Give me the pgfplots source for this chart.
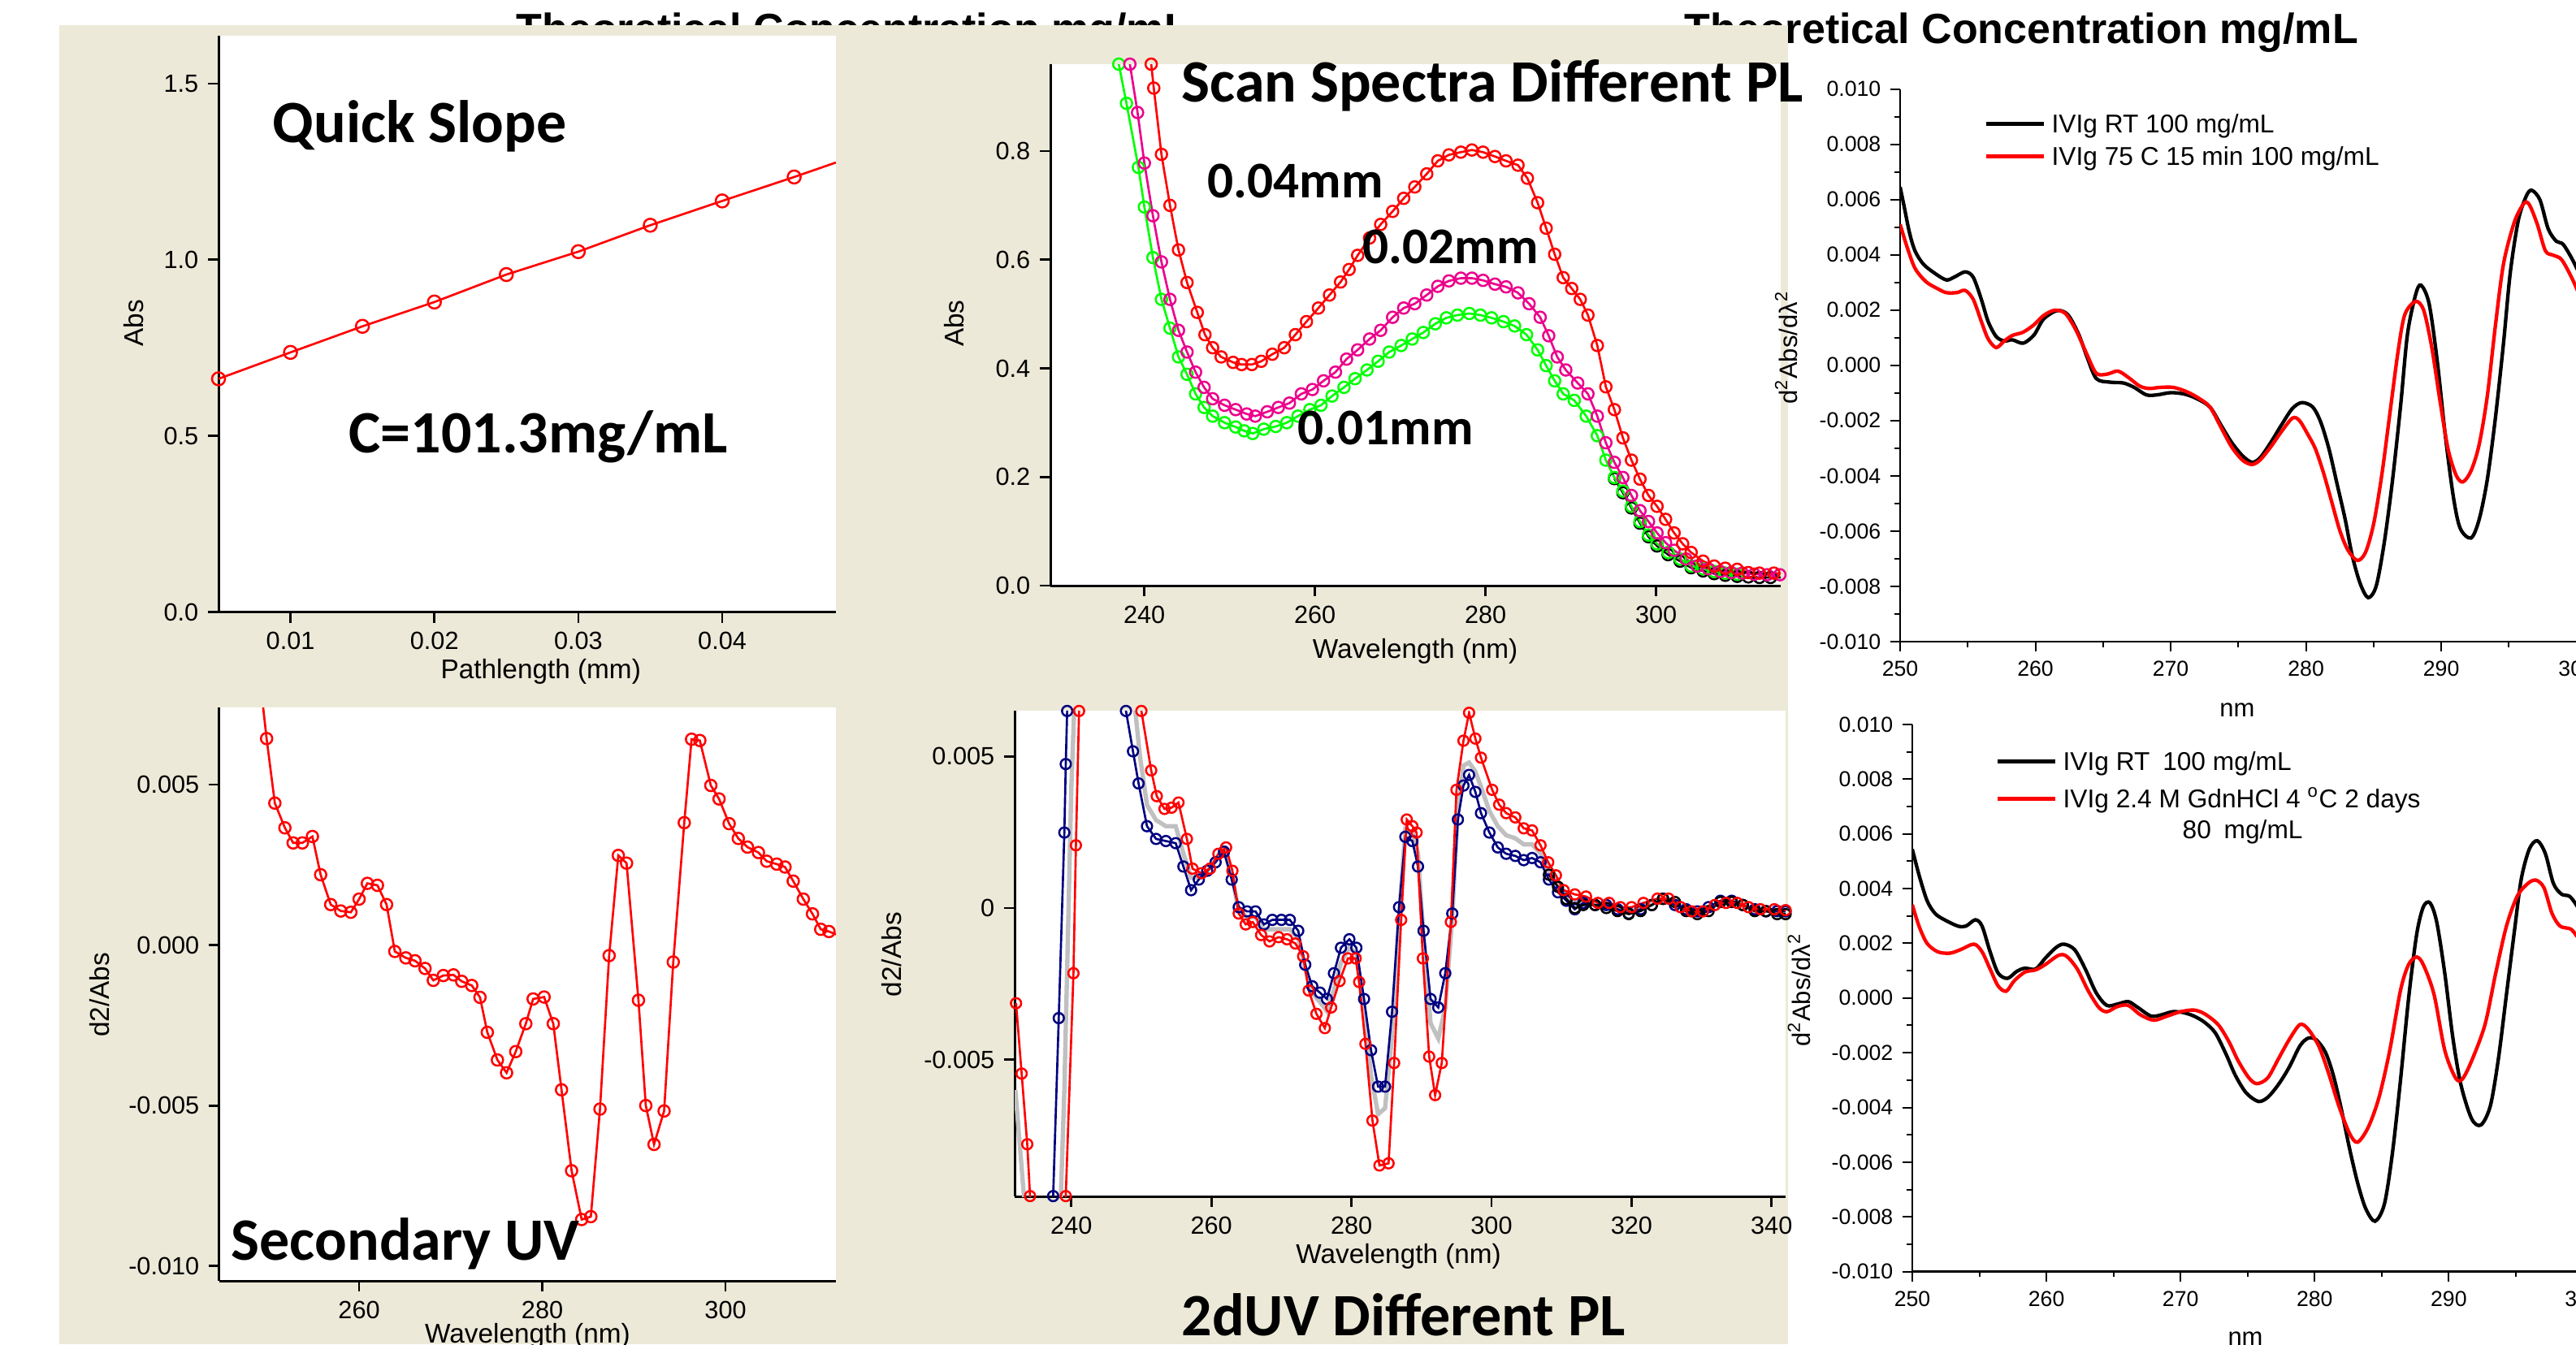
\documentclass[border=0pt]{standalone}
\usepackage{fontspec}
\setmainfont{Liberation Sans}
\newfontfamily\calib{Carlito}
\usepackage{pgfplots}
\pgfplotsset{compat=1.18}
\definecolor{xpbeige}{HTML}{ECE9D8}
\definecolor{navyb}{HTML}{000080}
\definecolor{grayc}{HTML}{C0C0C0}
\newcommand{\bigcal}{\calib\bfseries\fontsize{22.2}{26}\selectfont}
\newcommand{\midcal}{\calib\bfseries\fontsize{19}{22}\selectfont}
\pgfplotsset{
  winax/.style={scale only axis, axis lines*=left, axis line style={line width=0.9pt, black},
    tick align=outside, major tick length=3.9pt, tick style={black, line width=0.8pt},
    axis background/.style={fill=white}, scaled ticks=false,
    ticklabel style={font=\fontsize{9.2}{11}\selectfont},
    label style={font=\fontsize{10}{12}\selectfont}},
  winline/.style={line width=0.8pt, mark=o, mark size=2pt, mark options={solid, line width=0.75pt}},
  origax/.style={scale only axis, axis lines*=left, axis line style={line width=0.8pt, black},
    tick align=outside, major tick length=3.6pt, minor tick length=2pt, tick style={black, line width=0.6pt},
    scaled ticks=false,
    ticklabel style={font=\fontsize{8}{10}\selectfont},
    label style={font=\fontsize{9.3}{11}\selectfont},
    xmin=250, xmax=302, ymin=-0.010, ymax=0.010,
    xtick={250,260,270,280,290,300}, xticklabels={250,260,270,280,290,300},
    minor xtick={255,265,275,285,295},
    ytick={-0.01,-0.008,-0.006,-0.004,-0.002,0,0.002,0.004,0.006,0.008,0.01},
    yticklabels={-0.010,-0.008,-0.006,-0.004,-0.002,0.000,0.002,0.004,0.006,0.008,0.010},
    minor ytick={-0.009,-0.007,-0.005,-0.003,-0.001,0.001,0.003,0.005,0.007,0.009},
    xlabel={nm}, ylabel={d\textsuperscript{2}Abs/dλ\textsuperscript{2}},
    legend cell align=left,
    legend image code/.code={\draw[##1] (0pt,0pt) -- (21.3pt,0pt);},
    legend style={draw=none, fill=none, inner sep=0pt, anchor=north west, column sep=1.3pt,
      font=\fontsize{9.5}{11}\selectfont, nodes={inner sep=1pt, text height=8.3pt, text depth=1.7pt}}},
}
\begin{document}
\begin{tikzpicture}
\useasboundingbox (0pt,0pt) rectangle (951.3pt,496.5pt);
\fill[white] (0pt,0pt) rectangle (951.3pt,496.5pt);
\node[anchor=base west, inner sep=0pt, font=\bfseries\fontsize{15.6}{18}\selectfont] at (190.5pt,480.3pt) {Theoretical Concentration mg/mL};
\node[anchor=base west, inner sep=0pt, font=\bfseries\fontsize{15.6}{18}\selectfont] at (621.9pt,480.3pt) {Theoretical Concentration mg/mL};
\fill[xpbeige] (21.9pt,0pt) rectangle (660.3pt,487.2pt);

% Panel 1: Quick Slope
\begin{axis}[winax, at={(80.7pt,270.45pt)}, anchor=south west, width=228pt, height=212.85pt,
  xmin=0.005, xmax=0.0479, ymin=0, ymax=1.636,
  xtick={0.01,0.02,0.03,0.04}, xticklabels={0.01,0.02,0.03,0.04},
  ytick={0,0.5,1,1.5}, yticklabels={0.0,0.5,1.0,1.5},
  xlabel={Pathlength (mm)}, ylabel={Abs},
  xlabel style={at={(axis description cs:0.522,-0.1036)}, anchor=center},
  ylabel style={at={(axis description cs:-0.137,0.501)}, anchor=center}]
\addplot[red, line width=0.8pt] coordinates {(0.005,0.662) (0.01,0.737) (0.015,0.811) (0.02,0.880) (0.025,0.958) (0.03,1.023) (0.035,1.098) (0.04,1.167) (0.045,1.235) (0.0479,1.276)};
\addplot[red, only marks, mark=o, mark size=2.4pt, mark options={line width=0.75pt}] coordinates {(0.005,0.662) (0.01,0.737) (0.015,0.811) (0.02,0.880) (0.025,0.958) (0.03,1.023) (0.035,1.098) (0.04,1.167) (0.045,1.235)};
\end{axis}

% Panel 2: Scan spectra
\begin{axis}[winax, at={(387.9pt,280.2pt)}, anchor=south west, width=269.7pt, height=192.6pt,
  xmin=228.98, xmax=314.6, ymin=0, ymax=0.96,
  xtick={240,260,280,300}, xticklabels={240,260,280,300},
  ytick={0,0.2,0.4,0.6,0.8}, yticklabels={0.0,0.2,0.4,0.6,0.8},
  xlabel={Wavelength (nm)}, ylabel={Abs},
  xlabel style={at={(axis description cs:0.4995,-0.126)}, anchor=center},
  ylabel style={at={(axis description cs:-0.132,0.503)}, anchor=center}]
\addplot[black, winline, mark size=2.1pt] coordinates {(295.1,0.197) (296.1,0.171) (297.1,0.143) (298.1,0.115) (299.1,0.090) (300.1,0.073) (301.4,0.057) (302.8,0.045) (304.1,0.033) (305.5,0.027) (306.8,0.022) (308.1,0.019) (309.5,0.017) (310.8,0.016) (312.1,0.015) (313.4,0.015) (314.7,0.015)};
\addplot[green, winline, mark size=2.1pt] coordinates {(236.5,1.02) (237.0,0.96) (237.9,0.888) (239.3,0.770) (240.0,0.697) (241.0,0.604) (242.0,0.527) (243.0,0.474) (244.0,0.421) (245.0,0.389) (246.0,0.353) (247.0,0.328) (248.0,0.312) (249.4,0.300) (250.7,0.292) (251.7,0.285) (252.7,0.280) (254.0,0.288) (255.4,0.293) (256.7,0.300) (258.0,0.312) (259.4,0.324) (260.7,0.332) (262.0,0.349) (263.4,0.365) (264.7,0.381) (266.1,0.397) (267.4,0.413) (268.7,0.430) (270.1,0.442) (271.4,0.454) (272.7,0.466) (274.1,0.482) (275.4,0.493) (276.7,0.498) (278.1,0.501) (279.4,0.498) (280.7,0.493) (282.1,0.486) (283.4,0.478) (284.8,0.462) (286.1,0.434) (287.1,0.405) (288.1,0.377) (289.1,0.353) (290.4,0.341) (291.8,0.312) (293.1,0.276) (294.1,0.231) (295.1,0.199) (296.1,0.174) (297.1,0.146) (298.1,0.118) (299.1,0.093) (300.1,0.077) (301.4,0.061) (302.8,0.049) (304.1,0.036) (305.5,0.031) (306.8,0.026) (308.1,0.023) (309.5,0.021)};
\addplot[magenta, winline, mark size=2.1pt] coordinates {(237.8,1.02) (238.3,0.96) (239.2,0.871) (240.0,0.778) (241.0,0.681) (242.0,0.596) (243.0,0.527) (244.0,0.470) (245.0,0.430) (246.0,0.393) (247.0,0.365) (248.0,0.344) (249.4,0.332) (250.7,0.324) (252.0,0.316) (253.0,0.312) (254.4,0.320) (255.7,0.328) (257.0,0.336) (258.4,0.353) (259.7,0.361) (261.0,0.377) (262.4,0.393) (263.7,0.417) (265.0,0.434) (266.4,0.454) (267.7,0.470) (269.1,0.494) (270.4,0.511) (271.7,0.519) (273.1,0.535) (274.4,0.551) (275.7,0.561) (277.1,0.566) (278.4,0.566) (279.7,0.562) (281.1,0.555) (282.4,0.550) (283.8,0.539) (285.1,0.519) (286.4,0.494) (287.4,0.460) (288.4,0.421) (289.4,0.397) (290.8,0.373) (292.0,0.353) (293.1,0.312) (294.1,0.263) (295.1,0.227) (296.1,0.199) (297.1,0.166) (298.1,0.138) (299.1,0.118) (300.1,0.097) (301.1,0.079) (302.1,0.065) (303.5,0.049) (304.8,0.036) (306.1,0.031) (307.5,0.026) (308.8,0.024) (310.1,0.023) (311.5,0.021) (313.0,0.020) (314.5,0.020)};
\addplot[red, winline, mark size=2.1pt] coordinates {(240.3,1.02) (240.8,0.96) (241.1,0.916) (242.0,0.794) (243.0,0.70) (244.0,0.618) (245.0,0.558) (246.2,0.503) (247.1,0.462) (248.0,0.438) (249.0,0.421) (250.4,0.411) (251.4,0.407) (252.6,0.407) (253.7,0.413) (255.0,0.426) (256.4,0.438) (257.7,0.462) (259.0,0.486) (260.4,0.511) (261.7,0.535) (263.0,0.559) (264.0,0.582) (265.0,0.608) (266.4,0.640) (267.7,0.665) (269.1,0.689) (270.4,0.713) (271.7,0.734) (273.1,0.758) (274.4,0.782) (275.7,0.793) (277.1,0.798) (278.4,0.802) (279.7,0.798) (281.1,0.790) (282.4,0.782) (283.8,0.774) (284.9,0.750) (286.1,0.705) (287.1,0.658) (288.1,0.610) (289.1,0.567) (290.1,0.547) (291.1,0.527) (292.0,0.498) (293.1,0.442) (294.1,0.366) (295.1,0.324) (296.1,0.272) (297.1,0.231) (298.1,0.196) (299.1,0.166) (300.1,0.146) (301.1,0.122) (302.1,0.097) (303.1,0.077) (304.1,0.061) (305.5,0.045) (306.8,0.036) (308.1,0.032) (309.5,0.030) (310.8,0.024) (312.1,0.023) (313.8,0.023) (315.0,0.022)};
\end{axis}

% Panel 3: Origin top
\begin{axis}[origax, at={(701.7pt,259.5pt)}, anchor=south west, width=259.8pt, height=204.15pt,
  xlabel style={at={(axis description cs:0.479,-0.1234)}, anchor=center},
  ylabel style={at={(axis description cs:-0.1617,0.532)}, anchor=center},
  legend style={at={(axis description cs:0.1189,0.967)}}]
\addplot[black, line width=1.3pt, smooth] coordinates {(250,0.00645) (250.3,0.00574) (250.7,0.00478) (251.1,0.00414) (251.7,0.00367) (252.5,0.00335) (253.4,0.00309) (254.0,0.00319) (254.8,0.00338) (255.4,0.00319) (256.0,0.00239) (256.5,0.00159) (257.1,0.00104) (257.7,0.00088) (258.3,0.00092) (259.1,0.0008) (259.9,0.0011) (260.6,0.00167) (261.6,0.00198) (262.4,0.00183) (263.2,0.00112) (263.8,0.00032) (264.5,-0.00048) (265.5,-0.00061) (266.5,-0.00064) (267.3,-0.0008) (268.2,-0.00107) (269.0,-0.00107) (270.0,-0.00099) (271.0,-0.00104) (271.9,-0.0012) (272.9,-0.00151) (273.7,-0.00215) (274.5,-0.00279) (275.3,-0.00327) (276.0,-0.00351) (276.6,-0.00335) (277.4,-0.00279) (278.2,-0.00215) (279.0,-0.00156) (279.7,-0.00135) (280.5,-0.00151) (281.1,-0.00207) (281.7,-0.00303) (282.3,-0.0043) (282.9,-0.00558) (283.4,-0.00685) (284.0,-0.00789) (284.6,-0.00841) (285.2,-0.00797) (285.8,-0.00637) (286.4,-0.00414) (287.0,-0.00143) (287.5,0.00112) (288.1,0.00255) (288.5,0.0029) (289.1,0.00223) (289.7,0.00016) (290.3,-0.00255) (290.9,-0.00478) (291.4,-0.0059) (292.2,-0.00625) (292.8,-0.00558) (293.4,-0.00414) (294.0,-0.00191) (294.6,0.0008) (295.1,0.00335) (295.7,0.00526) (296.3,0.00614) (296.7,0.00633) (297.3,0.00598) (297.9,0.00494) (298.5,0.00449) (299.0,0.00438) (299.7,0.00382) (300.5,0.0030)};
\addlegendentry{IVIg RT 100 mg/mL}
\addplot[red, line width=1.3pt, smooth] coordinates {(250,0.0051) (250.5,0.0043) (251.1,0.00351) (251.9,0.00303) (252.7,0.00279) (253.4,0.00263) (254.2,0.00263) (254.8,0.00271) (255.4,0.00239) (256.0,0.00159) (256.5,0.00096) (257.1,0.00064) (257.7,0.00088) (258.3,0.00108) (259.1,0.0012) (259.9,0.00147) (260.6,0.0018) (261.4,0.00199) (262.2,0.00188) (263.0,0.00127) (263.8,0.0004) (264.5,-0.00029) (265.3,-0.00032) (266.1,-0.00021) (266.9,-0.00045) (267.7,-0.00075) (268.4,-0.00084) (269.2,-0.0008) (270.2,-0.0008) (271.2,-0.00096) (272.1,-0.0012) (272.9,-0.00151) (273.7,-0.00223) (274.5,-0.00295) (275.3,-0.00343) (276.0,-0.00359) (276.6,-0.00343) (277.4,-0.00295) (278.2,-0.00239) (279.0,-0.00191) (279.5,-0.00199) (280.1,-0.00247) (280.7,-0.00303) (281.3,-0.0039) (281.9,-0.00494) (282.5,-0.00598) (283.1,-0.00669) (283.8,-0.00706) (284.4,-0.00677) (285.0,-0.00574) (285.6,-0.00398) (286.2,-0.00175) (286.8,0.00048) (287.3,0.00183) (288.1,0.00231) (288.7,0.00199) (289.3,0.00064) (289.9,-0.00127) (290.5,-0.00303) (291.1,-0.00398) (291.6,-0.00422) (292.2,-0.00382) (292.8,-0.00287) (293.4,-0.00112) (294.0,0.00143) (294.6,0.00367) (295.4,0.00518) (296.1,0.00585) (296.5,0.00582) (297.1,0.0051) (297.7,0.00414) (298.3,0.00398) (298.9,0.00382) (299.7,0.00311) (300.5,0.0022)};
\addlegendentry{IVIg 75 C 15 min 100 mg/mL}
\end{axis}

% Panel 4: Secondary UV
\begin{axis}[winax, at={(81pt,23.4pt)}, anchor=south west, width=227.7pt, height=211.8pt,
  xmin=244.74, xmax=312.06, ymin=-0.01046, ymax=0.0074,
  xtick={260,280,300}, xticklabels={260,280,300},
  ytick={-0.01,-0.005,0,0.005}, yticklabels={-0.010,-0.005,0.000,0.005},
  xlabel={Wavelength (nm)}, ylabel={d2/Abs},
  xlabel style={at={(axis description cs:0.5,-0.0963)}, anchor=center},
  ylabel style={at={(axis description cs:-0.194,0.4986)}, anchor=center}]
\addplot[red, winline, mark size=2.1pt] coordinates {(248.9,0.0090) (249.9,0.00643) (250.8,0.00442) (251.9,0.00365) (252.8,0.00318) (253.8,0.00318) (254.9,0.00338) (255.8,0.00219) (256.9,0.00126) (258.0,0.00106) (259.1,0.00102) (260.0,0.00143) (260.9,0.00192) (262.0,0.00186) (263.0,0.00126) (263.9,-0.0002) (265.1,-0.0004) (266.1,-0.00049) (267.2,-0.00073) (268.1,-0.0011) (269.2,-0.00095) (270.3,-0.00093) (271.2,-0.00113) (272.3,-0.00126) (273.2,-0.00163) (274.0,-0.00272) (275.1,-0.00358) (276.1,-0.00398) (277.1,-0.00332) (278.2,-0.00245) (279.0,-0.00168) (280.2,-0.00162) (281.2,-0.00245) (282.1,-0.00451) (283.2,-0.00703) (284.3,-0.00855) (285.3,-0.00846) (286.3,-0.00511) (287.3,-0.00033) (288.3,0.00279) (289.2,0.00255) (290.5,-0.00172) (291.3,-0.005) (292.2,-0.00621) (293.3,-0.00517) (294.3,-0.00053) (295.5,0.00381) (296.3,0.00641) (297.2,0.00637) (298.4,0.00497) (299.3,0.00455) (300.4,0.00378) (301.4,0.00332) (302.4,0.00305) (303.6,0.00288) (304.5,0.00261) (305.6,0.00252) (306.5,0.00243) (307.4,0.00199) (308.5,0.00143) (309.5,0.00097) (310.4,0.00049) (311.3,0.00042) (312.1,0.00033)};
\end{axis}

% Panel 5: 2dUV
\begin{axis}[winax, at={(374.7pt,54.6pt)}, anchor=south west, width=284.7pt, height=179.4pt,
  xmin=231.9, xmax=342.0, ymin=-0.00951, ymax=0.00651,
  xtick={240,260,280,300,320,340}, xticklabels={240,260,280,300,320,340},
  ytick={-0.005,0,0.005}, yticklabels={-0.005,0,0.005},
  xlabel={Wavelength (nm)}, ylabel={d2/Abs},
  xlabel style={at={(axis description cs:0.498,-0.123)}, anchor=center},
  ylabel style={at={(axis description cs:-0.160,0.498)}, anchor=center}]
\addplot[grayc, line width=1.6pt] coordinates {(232.0,-0.0060) (232.7,-0.0080) (233.3,-0.0097) (233.6,-0.012) (238.0,-0.012) (238.5,-0.0095) (239.0,-0.0060) (239.5,-0.0010) (240.0,0.0040) (240.4,0.0065) (240.6,0.008) (248.6,0.008) (249.0,0.0068) (249.8,0.0050) (250.8,0.0034) (252.1,0.0029) (253.5,0.0027) (254.9,0.0027) (256.0,0.0018) (257.1,0.0010) (258.2,0.0010) (259.4,0.0012) (260.6,0.0016) (261.8,0.0019) (262.9,0.0011) (263.9,-0.0001) (265.1,-0.0003) (266.3,-0.0003) (267.5,-0.0007) (268.7,-0.0007) (270.0,-0.0007) (271.2,-0.0007) (272.4,-0.0010) (273.4,-0.0020) (274.4,-0.0028) (275.5,-0.0031) (276.5,-0.0034) (277.5,-0.0027) (278.5,-0.0018) (279.7,-0.0013) (280.7,-0.0015) (281.8,-0.0035) (282.8,-0.0055) (283.8,-0.0068) (284.8,-0.0066) (285.8,-0.0042) (286.8,-0.0003) (287.7,0.0026) (288.7,0.0025) (289.5,0.0018) (290.3,-0.0010) (291.3,-0.0038) (292.4,-0.0043) (293.4,-0.0033) (294.4,-0.0003) (295.2,0.0033) (296.0,0.0047) (296.8,0.0048) (297.7,0.0045) (298.5,0.0040) (299.7,0.0032) (300.9,0.0027) (302.1,0.0024) (303.4,0.0023) (304.6,0.0021) (305.8,0.0021) (307.0,0.0018) (308.2,0.0012) (309.5,0.0008) (310.7,0.0004) (311.9,0.0002) (313.1,0.0002) (314.8,0.0001) (316.4,0.0001) (318.0,0.0000) (319.6,-0.0001) (321.3,0.0000) (322.9,0.0002) (324.5,0.0003) (326.2,0.0002) (327.8,-0.0001) (329.4,-0.0001) (331.0,0.0000) (332.7,0.0002) (334.3,0.0002) (335.9,0.0001) (337.6,-0.0001) (339.2,-0.0001) (342.0,-0.0001)};
\addplot[navyb, winline, mark size=1.9pt] coordinates {(232.0,-0.0150) (237.2,-0.0120) (237.4,-0.0095) (238.2,-0.00363) (239.0,0.00249) (239.2,0.00475) (239.4,0.0065) (239.6,0.0080) (247.6,0.0080) (247.8,0.0065) (248.8,0.00517) (249.6,0.00411) (250.8,0.0027) (252.1,0.00228) (253.5,0.00221) (254.9,0.00214) (256.0,0.00137) (257.1,0.00059) (258.2,0.00094) (259.4,0.00123) (260.6,0.00151) (261.8,0.00186) (262.9,0.00094) (263.9,0.00003) (265.1,-0.00011) (266.3,-0.00011) (267.5,-0.00054) (268.7,-0.00039) (270.0,-0.00039) (271.2,-0.00039) (272.4,-0.00075) (273.4,-0.00187) (274.4,-0.00258) (275.5,-0.00279) (276.5,-0.003) (277.5,-0.00215) (278.5,-0.00131) (279.7,-0.00103) (280.7,-0.00131) (281.8,-0.003) (282.8,-0.00469) (283.8,-0.00589) (284.8,-0.00589) (285.8,-0.00342) (286.8,0.00003) (287.7,0.00235) (288.7,0.00221) (289.5,0.00137) (290.3,-0.00075) (291.3,-0.003) (292.4,-0.00328) (293.4,-0.00215) (294.4,-0.00018) (295.2,0.00292) (296.0,0.00404) (296.8,0.00439) (297.7,0.00383) (298.5,0.00313) (299.7,0.00249) (300.9,0.002) (302.1,0.00179) (303.4,0.00172) (304.6,0.00158) (305.8,0.00165) (307.0,0.00151) (308.2,0.00094) (309.5,0.00052) (310.7,0.00024) (311.9,-0.00004) (313.1,0.00017) (314.8,0.0001) (316.4,0.0001) (318.0,-0.00004) (319.6,-0.00018) (321.3,-0.00004) (322.9,0.0001) (324.5,0.00031) (326.2,0.0001) (327.8,-0.00004) (329.4,-0.00011) (331.0,0.00003) (332.7,0.00024) (334.3,0.00024) (335.9,0.0001) (337.6,-0.00004) (339.2,-0.00011) (340.8,-0.0001) (342.0,-0.00011)};
\addplot[black, winline, mark size=1.9pt] coordinates {(308.2,0.0011) (309.5,0.0007) (310.7,0.0003) (311.9,0.0000) (313.1,0.0001) (314.8,0.0001) (316.4,0.0000) (318.0,-0.0001) (319.6,-0.0002) (321.3,-0.0001) (322.9,0.0001) (324.5,0.0003) (326.2,0.0002) (327.8,-0.0001) (329.4,-0.0002) (331.0,-0.0001) (332.7,0.0002) (334.3,0.0002) (335.9,0.0001) (337.6,-0.0001) (339.2,-0.0001) (340.8,-0.0002) (342.0,-0.0002)};
\addplot[red, winline, mark size=1.9pt] coordinates {(232.1,-0.00314) (232.9,-0.00546) (233.7,-0.00779) (234.1,-0.0095) (234.5,-0.012) (238.8,-0.012) (239.2,-0.0095) (240.3,-0.00215) (240.65,0.00207) (241.1,0.0065) (241.5,0.008) (249.6,0.008) (250.0,0.0065) (251.4,0.00454) (252.2,0.00369) (253.3,0.00327) (254.3,0.00331) (255.3,0.00348) (256.5,0.00228) (257.3,0.0013) (258.6,0.00115) (259.8,0.0013) (261.0,0.00179) (262.1,0.002) (263.0,0.00123) (263.9,-0.00018) (264.9,-0.00054) (265.9,-0.00046) (267.1,-0.00089) (268.3,-0.0011) (269.6,-0.00096) (270.8,-0.00103) (272.0,-0.00117) (273.1,-0.00159) (273.9,-0.00272) (275.0,-0.00349) (276.2,-0.00396) (277.1,-0.00328) (278.3,-0.00241) (279.5,-0.00166) (280.6,-0.00166) (281.1,-0.00244) (282.0,-0.00448) (283.0,-0.00701) (284.0,-0.00849) (285.3,-0.00842) (286.1,-0.00511) (287.1,-0.00039) (287.9,0.00292) (288.7,0.0027) (289.3,0.00249) (290.2,-0.00166) (291.1,-0.0049) (291.95,-0.00617) (292.9,-0.00511) (294.2,-0.00046) (295.0,0.0039) (296.0,0.00552) (296.8,0.00644) (297.7,0.00559) (298.5,0.00496) (300.1,0.0039) (301.1,0.00341) (302.1,0.00313) (303.4,0.00299) (304.6,0.00263) (305.8,0.00256) (307.0,0.00207) (308.1,0.00151) (309.2,0.00108) (310.3,0.00059) (311.9,0.00045) (313.5,0.00038) (315.2,0.00017) (316.8,0.00017) (318.4,0.00003) (320.0,0.00003) (321.7,0.00017) (323.7,0.00031) (325.3,0.00031) (327.0,0.00003) (328.6,-0.00011) (330.2,-0.00011) (331.9,0.0001) (333.5,0.00017) (335.1,0.00017) (336.7,0.00003) (338.4,-0.00004) (340.4,-0.00004) (342.0,-0.00007)};
\end{axis}

% Panel 6: Origin bottom
\begin{axis}[origax, at={(706.2pt,26.82pt)}, anchor=south west, width=257.55pt, height=202.08pt,
  xlabel style={at={(axis description cs:0.4776,-0.1223)}, anchor=center},
  ylabel style={at={(axis description cs:-0.162,0.5146)}, anchor=center},
  legend style={at={(axis description cs:0.1188,0.963)}, row sep=1.8pt}]
\addplot[black, line width=1.3pt, smooth] coordinates {(250,0.00544) (250.5,0.0045) (251.1,0.00356) (251.7,0.00309) (252.4,0.00286) (253.4,0.00263) (254.0,0.00263) (254.7,0.00286) (255.2,0.00263) (255.8,0.00169) (256.4,0.00091) (257.1,0.00072) (257.8,0.00098) (258.4,0.00109) (259.2,0.00106) (259.9,0.00145) (260.7,0.00184) (261.3,0.00197) (262.1,0.00177) (262.9,0.00106) (263.7,0.0002) (264.5,-0.00027) (265.3,-0.00022) (266.1,-0.00013) (266.8,-0.00034) (267.8,-0.00066) (268.6,-0.00061) (269.4,-0.0005) (270.2,-0.00053) (271.0,-0.00066) (271.8,-0.00089) (272.6,-0.00128) (273.4,-0.00206) (274.1,-0.00284) (274.9,-0.00347) (275.8,-0.00378) (276.5,-0.00363) (277.3,-0.00316) (278.1,-0.00253) (278.9,-0.00175) (279.5,-0.00147) (280.1,-0.00152) (280.8,-0.00198) (281.4,-0.00284) (282.0,-0.00409) (282.6,-0.0055) (283.2,-0.00675) (283.8,-0.00769) (284.5,-0.00816) (285.2,-0.00753) (285.8,-0.00566) (286.4,-0.003) (287.0,-0.00003) (287.6,0.00231) (288.1,0.00333) (288.6,0.00348) (289.1,0.00278) (289.7,0.00091) (290.3,-0.00144) (290.9,-0.00316) (291.7,-0.00441) (292.4,-0.00464) (293.1,-0.00394) (293.7,-0.00222) (294.3,0.00013) (294.9,0.00247) (295.4,0.00434) (296.0,0.00544) (296.6,0.00575) (297.2,0.00528) (297.8,0.00419) (298.4,0.0038) (299.0,0.00372) (299.5,0.00341) (300.5,0.0026)};
\addlegendentry{IVIg RT\enspace 100 mg/mL}
\addplot[red, line width=1.3pt, smooth] coordinates {(250,0.00341) (250.5,0.00263) (251.1,0.002) (251.9,0.00169) (252.8,0.00164) (253.6,0.00177) (254.6,0.00197) (255.2,0.00169) (255.8,0.00106) (256.4,0.00044) (257.0,0.00025) (257.6,0.00063) (258.4,0.00095) (259.2,0.00103) (259.9,0.00122) (260.9,0.00156) (261.5,0.00153) (262.3,0.00106) (263.1,0.00028) (263.9,-0.00034) (264.5,-0.0005) (265.3,-0.00031) (266.1,-0.00027) (267.0,-0.00061) (268.0,-0.00081) (269.0,-0.00066) (270.0,-0.0005) (271.0,-0.00044) (271.8,-0.00058) (272.8,-0.00097) (273.6,-0.00159) (274.3,-0.0023) (275.1,-0.00292) (275.7,-0.00313) (276.5,-0.00292) (277.3,-0.00222) (278.1,-0.00152) (278.9,-0.00097) (279.5,-0.00113) (280.3,-0.00175) (281.0,-0.00269) (281.8,-0.00394) (282.6,-0.00495) (283.2,-0.00527) (284.0,-0.00472) (284.8,-0.00363) (285.6,-0.00191) (286.4,0.00028) (287.0,0.00122) (287.6,0.0015) (288.1,0.00122) (288.9,0.00013) (289.7,-0.00191) (290.5,-0.00292) (291.0,-0.00297) (291.7,-0.0023) (292.7,-0.00097) (293.5,0.00091) (294.3,0.00263) (295.1,0.00372) (295.9,0.00419) (296.5,0.00431) (297.1,0.00403) (297.7,0.00309) (298.3,0.00263) (299.1,0.00252) (299.6,0.00223) (300.5,0.0017)};
\addlegendentry{IVIg 2.4 M GdnHCl 4 \textsuperscript{o}C 2 days}
\end{axis}

% Overlay texts
\node[anchor=base west, inner sep=0pt, font=\bigcal] at (100.5pt,443.7pt) {Quick Slope};
\node[anchor=base west, inner sep=0pt, font=\bigcal] at (128.7pt,329.1pt) {C=101.3mg/mL};
\node[anchor=base west, inner sep=0pt, font=\bigcal] at (436.2pt,458.7pt) {Scan Spectra Different PL};
\node[anchor=base west, inner sep=0pt, font=\midcal] at (445.8pt,423.3pt) {0.04mm};
\node[anchor=base west, inner sep=0pt, font=\midcal] at (503.1pt,399pt) {0.02mm};
\node[anchor=base west, inner sep=0pt, font=\midcal] at (479.1pt,332.25pt) {0.01mm};
\node[anchor=base west, inner sep=0pt, font=\bigcal] at (85.2pt,31.2pt) {Secondary UV};
\node[anchor=base west, inner sep=0pt, font=\bigcal] at (436.2pt,3.15pt) {2dUV Different PL};
\node[anchor=base west, inner sep=0pt, font=\fontsize{9.5}{11}\selectfont] at (805.8pt,186.7pt) {80\enspace mg/mL};
\end{tikzpicture}
\end{document}
